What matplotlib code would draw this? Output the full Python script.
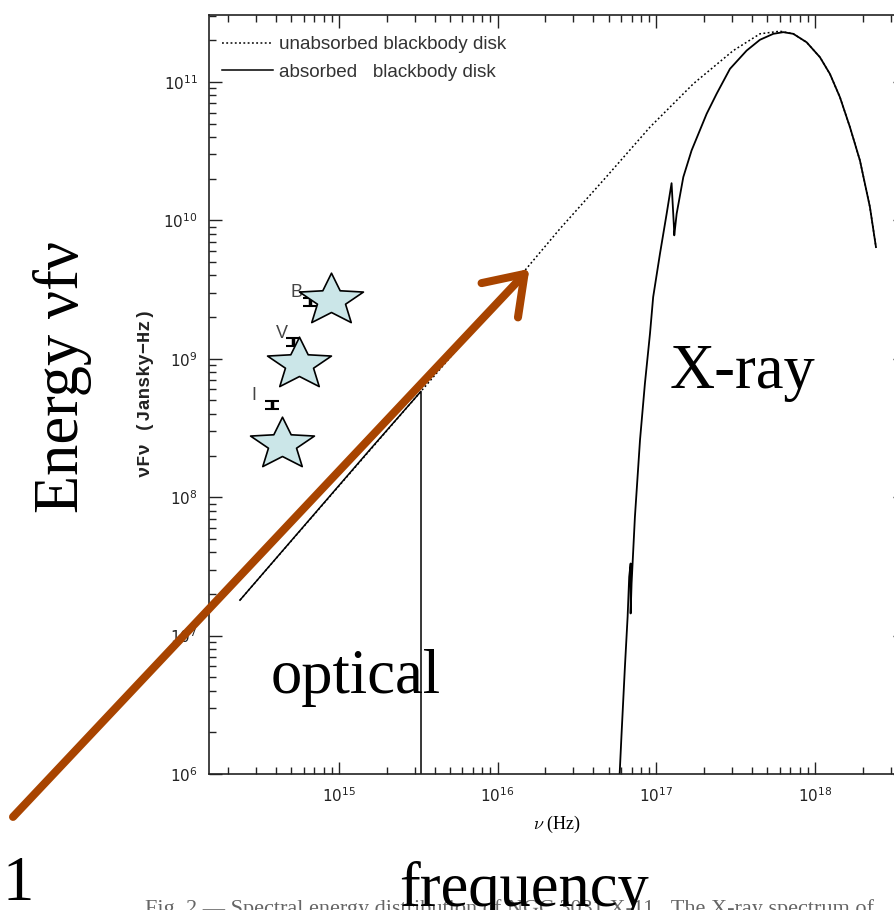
import numpy as np
import matplotlib
matplotlib.use('Agg')
import matplotlib.pyplot as plt
from matplotlib.path import Path
from matplotlib.patches import FancyArrowPatch, ArrowStyle

# values, in log10(nu / Hz) and log10(nuFnu / Jy Hz)
# absorbed blackbody disk, optical piece (drops to zero at the Lyman edge)
opt_lognu = [14.376, 14.650, 14.925, 15.200, 15.517, 15.517]
opt_logf = [7.256, 7.620, 7.985, 8.350, 8.765, 5.800]

# absorbed blackbody disk, X-ray piece
xray_lognu = [16.767, 16.781, 16.802, 16.819, 16.829, 16.838, 16.838, 16.844,
              16.865, 16.897, 16.928, 16.960, 16.980, 17.023, 17.065, 17.096,
              17.111, 17.113, 17.128, 17.170, 17.222, 17.317, 17.380, 17.464,
              17.569, 17.653, 17.737, 17.800, 17.863, 17.947, 18.031, 18.094,
              18.157, 18.220, 18.283, 18.346, 18.384]
xray_logf = [5.957, 6.294, 6.775, 7.136, 7.425, 7.521, 7.160, 7.377,
             7.858, 8.412, 8.821, 9.182, 9.446, 9.760, 10.048, 10.269,
             9.952, 9.892, 10.048, 10.313, 10.505, 10.770, 10.915, 11.095,
             11.227, 11.305, 11.348, 11.360, 11.348, 11.287, 11.179, 11.058,
             10.890, 10.674, 10.433, 10.096, 9.807]

# unabsorbed blackbody disk
unabs_lognu = [14.376, 15.517, 16.172, 16.393, 16.676, 16.960, 17.233, 17.485,
               17.653, 17.779, 17.863, 17.947, 18.031, 18.094, 18.157, 18.220,
               18.283, 18.346, 18.384]
unabs_logf = [7.256, 8.765, 9.639, 9.940, 10.303, 10.674, 10.987, 11.227,
              11.348, 11.367, 11.348, 11.287, 11.179, 11.058, 10.890, 10.674,
              10.433, 10.096, 9.807]

# optical photometry
bands = ['I', 'V', 'B']
band_lognu = [14.578, 14.710, 14.817]
band_logf = [8.664, 9.119, 9.408]
band_err = [0.03, 0.03, 0.03]

# star overlays from the slide
star_lognu = [14.644, 14.748, 14.948]
star_logf = [8.384, 8.965, 9.424]

caption = "Fig. 2.\u2014 Spectral energy distribution of NGC 3031 X-11.  The X-ray spectrum of"

W, H = 895, 910


def fx(px):
    return px / W


def fy(py):
    return 1 - py / H


plt.rcParams['font.family'] = ['DejaVu Sans']
plt.rcParams['mathtext.fontset'] = 'cm'

fig = plt.figure(figsize=(W / 100, H / 100), dpi=100)
ax = fig.add_axes([fx(209), fy(774), fx(905) - fx(209), fy(15) - fy(774)])
ax.set_xscale('log')
ax.set_yscale('log')

ax.plot(10 ** np.array(unabs_lognu), 10 ** np.array(unabs_logf), color='black',
        lw=1.1, linestyle=(0, (1.2, 1.6)), label='unabsorbed blackbody disk')
ax.plot(10 ** np.array(opt_lognu), 10 ** np.array(opt_logf), color='black',
        lw=1.1, label='absorbed   blackbody disk')
ax.plot(10 ** np.array(xray_lognu), 10 ** np.array(xray_logf), color='black', lw=1.3)

# photometric points with small error bars
bx = 10 ** np.array(band_lognu)
by = 10 ** np.array(band_logf)
err = [by - by / 10 ** np.array(band_err), by * 10 ** np.array(band_err) - by]
ax.errorbar(bx, by, yerr=err, fmt='none', ecolor='black', elinewidth=2.5,
            capsize=5, capthick=1.5)
label_off = [(-13, 7), (-8, 6.5), (-9.4, 7.2)]
for b, x, y, off in zip(bands, bx, by, label_off):
    ax.annotate(b, (x, y), xytext=off, textcoords='offset points',
                ha='center', va='center', fontsize=13, color='#444444',
                family='Liberation Sans')

# stretched five-point star used on the slide
ang = np.pi / 2 + np.arange(10) * np.pi / 5
rad = np.where(np.arange(10) % 2 == 0, 1.0, 0.44)
verts = np.column_stack([1.23 * rad * np.cos(ang), rad * np.sin(ang)])
verts = np.vstack([verts, verts[:1]])
star = Path(verts, [Path.MOVETO] + [Path.LINETO] * 9 + [Path.CLOSEPOLY])
ax.plot(10 ** np.array(star_lognu), 10 ** np.array(star_logf), linestyle='none',
        marker=star, markersize=46, markerfacecolor='#cbe6e8',
        markeredgecolor='black', markeredgewidth=1.2, zorder=5)

ax.set_xlim(10 ** 14.181, 10 ** 18.567)
ax.set_ylim(1e6, 10 ** 11.484)

for s in ax.spines.values():
    s.set_linewidth(1.2)
    s.set_color('#222222')
ax.tick_params(which='both', direction='in', top=True, right=True,
               width=1, color='#222222')
ax.tick_params(which='major', length=9, labelsize=11, labelcolor='#222222')
ax.tick_params(which='minor', length=5)
ax.tick_params(axis='x', pad=9)
ax.tick_params(axis='y', pad=8)

ax.legend(loc='upper left', bbox_to_anchor=(0.0187, 0.972), frameon=False,
          handlelength=2.7, handletextpad=0.3, labelspacing=0.52,
          borderpad=0, borderaxespad=0,
          prop={'family': 'Liberation Sans', 'size': 13.6})
for t in ax.get_legend().get_texts():
    t.set_color('#333333')

fig.text(fx(557), fy(824), r'$\nu$ (Hz)', ha='center', va='center',
         fontsize=13, family='Liberation Serif')
fig.text(fx(146), fy(393), '\u03bdF\u03bd (Jansky\u2212Hz)', rotation=90,
         ha='center', va='center', fontsize=13.5, family='Liberation Mono',
         weight='bold', color='#222222')

# big arrow drawn over the plot
arrow = FancyArrowPatch((10 ** 12.946, 10 ** 5.690), (10 ** 16.200, 10 ** 9.650),
                        arrowstyle=ArrowStyle('->', head_length=26, head_width=18),
                        mutation_scale=1, color='#a84400', lw=5.8,
                        capstyle='round', joinstyle='round',
                        shrinkA=0, shrinkB=0, clip_on=False, zorder=10)
ax.add_patch(arrow)

serif = 'Liberation Serif'
fig.text(fx(63), fy(377), 'Energy \u03bdf\u03bd', rotation=90, ha='center',
         va='center', fontsize=45, family=serif)
fig.text(fx(670), fy(388), 'X-ray', ha='left', va='baseline', fontsize=45, family=serif)
fig.text(fx(271), fy(693), 'optical', ha='left', va='baseline', fontsize=45, family=serif)
fig.text(fx(2), fy(900), '1', ha='left', va='baseline', fontsize=45, family=serif)
fig.text(fx(399), fy(906), 'frequency', ha='left', va='baseline', fontsize=45,
         family=serif, zorder=5)
fig.text(fx(145), fy(914), caption, ha='left', va='baseline', fontsize=16,
         family=serif, color='#666666', zorder=1)

fig.savefig('out.png', dpi=100)
